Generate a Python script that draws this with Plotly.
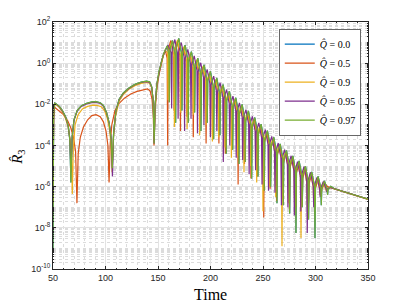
import plotly.graph_objects as go

# ---------------- data: (time, log10 R3) vertices ----------------
# Q = 0.97 (green)
green_pts = [
    (50, -9.0), (50.6, -2.6), (51.5, -1.92), (53, -1.97), (56, -2.1), (59, -2.3), (62, -2.6),
    (64.5, -3.05), (66, -3.7), (67.1, -5.8), (68.2, -3.6), (70, -2.75), (73, -2.3), (77, -2.07),
    (82, -1.95), (87, -1.88), (91, -1.87), (95, -1.92), (98, -2.05), (101, -2.4), (103.5, -2.9),
    (105.4, -3.7), (106.5, -5.1), (107.7, -3.4), (110, -2.3), (113, -1.75), (117, -1.45),
    (122, -1.22), (128, -1.03), (134, -0.92), (139, -0.87), (142, -0.9), (144, -1.15),
    (145.4, -1.8), (146.3, -3.9), (147.3, -2.0), (149, -1.0), (151, -0.4), (153, 0.05),
    (155, 0.4), (157, 0.65), (159, 0.85),
    (160.3, 0.4), (160.8, -1.9), (161.3, 0.65), (163.8, 1.1),
    (166.3, 0.4), (166.8, -2.9), (167.3, 0.75), (169.8, 1.2),
    (172.3, 0.5), (172.8, -2.3), (173.3, 0.43), (175.8, 0.88),
    (178.3, 0.18), (178.8, -2.9), (179.3, 0.11), (181.8, 0.56),
    (184.4, -0.14), (184.9, -2.4), (185.4, -0.21), (187.9, 0.24),
    (190.4, -0.46), (190.9, -3.3), (191.4, -0.53), (193.9, -0.08),
    (196.4, -0.78), (196.9, -2.9), (197.4, -0.85), (199.9, -0.4),
    (202.5, -1.1), (203.0, -3.7), (203.5, -1.17), (206.0, -0.72),
    (208.5, -1.42), (209.0, -3.5), (209.5, -1.49), (212.0, -1.04),
    (214.5, -1.74), (215.0, -4.4), (215.5, -1.81), (218.0, -1.36),
    (220.6, -2.06), (221.1, -4.2), (221.6, -2.13), (224.1, -1.68),
    (226.6, -2.38), (227.1, -4.9), (227.6, -2.45), (230.1, -2.0),
    (232.6, -2.7), (233.1, -4.8), (233.6, -2.77), (236.1, -2.32),
    (238.7, -3.02), (239.2, -5.6), (239.7, -3.09), (242.2, -2.64),
    (244.7, -3.34), (245.2, -5.5), (245.7, -3.41), (248.2, -2.96),
    (250.7, -3.66), (251.2, -6.2), (251.7, -3.73), (254.2, -3.28),
    (256.8, -3.98), (257.3, -6.0), (257.8, -4.05), (260.3, -3.6),
    (262.8, -4.3), (263.3, -6.8), (263.8, -4.37), (266.3, -3.92),
    (268.8, -4.62), (269.3, -6.9), (269.8, -4.69), (272.3, -4.24),
    (274.9, -4.94), (275.4, -7.3), (275.9, -4.95), (278.4, -4.5),
    (280.9, -5.2), (281.4, -8.25), (281.9, -5.2), (284.4, -4.75),
    (286.9, -5.45), (287.4, -7.0), (287.9, -5.45), (290.4, -5.0),
    (292.9, -5.7), (293.4, -7.6), (293.9, -5.73), (296.4, -5.28),
    (299.0, -5.95), (299.5, -8.5), (300.0, -5.95), (302.5, -5.5),
    (305.0, -6.05), (305.5, -6.9), (306.0, -6.1), (308.5, -5.72),
    (311.0, -6.1), (311.5, -6.4), (312.0, -6.15), (314.5, -5.98),
    (318, -6.1), (324, -6.2), (331, -6.31), (338, -6.42), (344, -6.52), (350, -6.61),
]

# Q = 0.5 (red)
red_pts = [
    (50, -6.8), (50.6, -2.7), (51.5, -2.14), (53, -2.2), (56, -2.3), (60, -2.5), (64, -2.8),
    (67, -3.15), (69.5, -3.6), (71.5, -4.3), (72.8, -6.8), (74.0, -4.4), (76, -3.6), (79, -3.1),
    (83, -2.75), (87, -2.55), (91, -2.5), (95, -2.6), (98, -2.85), (100.5, -3.3), (102.3, -4.0),
    (103.4, -5.8), (104.5, -3.9), (106, -3.0), (109, -2.3), (113, -1.95), (118, -1.7),
    (124, -1.5), (130, -1.37), (136, -1.28), (140, -1.25), (142.5, -1.35), (144.3, -1.75),
    (145.5, -2.5), (146.2, -4.0), (147.1, -2.4), (149, -1.2), (151, -0.55), (153, -0.05),
    (155, 0.35), (157, 0.62),
    (158.7, 0.25), (159.2, -4.0), (159.7, 0.65), (162.25, 1.1),
    (164.8, 0.4), (165.3, -2.3), (165.8, 0.6), (168.35, 1.05),
    (170.9, 0.35), (171.4, -3.3), (171.9, 0.3), (174.45, 0.75),
    (177.0, 0.05), (177.5, -2.6), (178.0, -0.02), (180.55, 0.43),
    (183.1, -0.27), (183.6, -3.6), (184.1, -0.34), (186.65, 0.11),
    (189.2, -0.59), (189.7, -2.9), (190.2, -0.66), (192.75, -0.21),
    (195.3, -0.91), (195.8, -3.9), (196.3, -0.98), (198.85, -0.53),
    (201.4, -1.23), (201.9, -3.5), (202.4, -1.3), (204.95, -0.85),
    (207.5, -1.55), (208.0, -3.9), (208.5, -1.62), (211.05, -1.17),
    (213.6, -1.87), (214.1, -4.4), (214.6, -1.94), (217.15, -1.49),
    (219.7, -2.19), (220.2, -4.2), (220.7, -2.26), (223.25, -1.81),
    (225.8, -2.51), (226.3, -5.9), (226.8, -2.58), (229.35, -2.13),
    (231.9, -2.83), (232.4, -4.9), (232.9, -2.9), (235.45, -2.45),
    (238.0, -3.15), (238.5, -5.6), (239.0, -3.22), (241.55, -2.77),
    (244.1, -3.47), (244.6, -5.5), (245.1, -3.54), (247.65, -3.09),
    (250.2, -3.79), (250.7, -7.5), (251.2, -3.86), (253.75, -3.41),
    (256.3, -4.11), (256.8, -6.1), (257.3, -4.18), (259.85, -3.73),
    (262.4, -4.43), (262.9, -6.7), (263.4, -4.5), (265.95, -4.05),
    (268.5, -4.75), (269.0, -6.6), (269.5, -4.82), (272.05, -4.37),
    (274.6, -5.07), (275.1, -7.1), (275.6, -5.1), (278.15, -4.65),
    (280.7, -5.35), (281.2, -7.0), (281.7, -5.35), (284.25, -4.9),
    (286.8, -5.6), (287.3, -6.9), (287.8, -5.6), (290.35, -5.15),
    (292.9, -5.85), (293.4, -6.8), (293.9, -5.85), (296.45, -5.4),
    (299.0, -6.05), (299.5, -6.6), (300.0, -6.07), (302.55, -5.62),
    (305.1, -6.1), (305.6, -6.3), (306.1, -6.1), (308.6, -5.85),
    (312, -6.01), (318, -6.11), (325, -6.22), (332, -6.33), (340, -6.46), (350, -6.62),
]

# Q = 0.9 (yellow)
yellow_pts = [
    (50, -6.4), (50.6, -2.6), (51.5, -2.0), (53, -2.02), (56, -2.15), (59, -2.38), (62, -2.7),
    (64.5, -3.1), (66.5, -3.8), (67.7, -4.8), (68.4, -6.35), (69.3, -4.2), (71, -3.0), (74, -2.5),
    (78, -2.22), (83, -2.1), (88, -2.04), (92, -2.05), (96, -2.12), (99, -2.3), (101.5, -2.65),
    (103.8, -3.2), (105.4, -4.0), (106.3, -5.3), (107.4, -3.7), (109.5, -2.6), (113, -1.85),
    (117, -1.52), (122, -1.28), (128, -1.1), (134, -0.98), (139, -0.94), (142, -0.97),
    (144, -1.2), (145.4, -1.85), (146.3, -3.9), (147.3, -2.05), (149, -1.05), (151, -0.45),
    (153, 0.0), (155, 0.37), (157, 0.63),
    (159.1, 0.5), (159.6, -1.8), (160.1, 0.55), (162.6, 1.0),
    (165.1, 0.3), (165.6, -3.1), (166.1, 0.68), (168.6, 1.13),
    (171.1, 0.43), (171.6, -2.4), (172.1, 0.35), (174.65, 0.8),
    (177.2, 0.1), (177.7, -3.2), (178.2, 0.03), (180.7, 0.48),
    (183.2, -0.22), (183.7, -2.5), (184.2, -0.29), (186.7, 0.16),
    (189.2, -0.54), (189.7, -3.5), (190.2, -0.61), (192.75, -0.16),
    (195.3, -0.86), (195.8, -3.0), (196.3, -0.93), (198.8, -0.48),
    (201.3, -1.18), (201.8, -3.8), (202.3, -1.25), (204.8, -0.8),
    (207.3, -1.5), (207.8, -3.6), (208.3, -1.57), (210.8, -1.12),
    (213.3, -1.82), (213.8, -4.1), (214.3, -1.89), (216.85, -1.44),
    (219.4, -2.14), (219.9, -4.6), (220.4, -2.21), (222.9, -1.76),
    (225.4, -2.46), (225.9, -4.5), (226.4, -2.53), (228.9, -2.08),
    (231.4, -2.78), (231.9, -5.3), (232.4, -2.85), (234.95, -2.4),
    (237.5, -3.1), (238.0, -5.0), (238.5, -3.17), (241.0, -2.72),
    (243.5, -3.42), (244.0, -5.8), (244.5, -3.49), (247.0, -3.04),
    (249.5, -3.74), (250.0, -7.2), (250.5, -3.81), (253.05, -3.36),
    (255.6, -4.06), (256.1, -6.0), (256.6, -4.13), (259.1, -3.68),
    (261.6, -4.38), (262.1, -6.5), (262.6, -4.45), (265.1, -4.0),
    (267.6, -4.7), (268.1, -8.9), (268.6, -4.77), (271.15, -4.32),
    (273.7, -5.02), (274.2, -6.8), (274.7, -5.05), (277.2, -4.6),
    (279.7, -5.3), (280.2, -7.3), (280.7, -5.3), (283.2, -4.85),
    (285.7, -5.55), (286.2, -8.5), (286.7, -5.55), (289.2, -5.1),
    (291.7, -5.8), (292.2, -7.0), (292.7, -5.8), (295.25, -5.35),
    (297.8, -6.0), (298.3, -6.7), (298.8, -6.05), (301.3, -5.6),
    (303.8, -6.1), (304.3, -6.4), (304.8, -6.1), (307.3, -5.8),
    (309.8, -6.1), (310.3, -6.2), (310.8, -6.1),
    (313, -6.03), (320, -6.14), (328, -6.26), (336, -6.39), (343, -6.5), (350, -6.6),
]

# Q = 0.95 (purple)
purple_pts = [
    (50, -6.2), (50.6, -2.6), (51.5, -1.95), (53, -1.99), (56, -2.12), (59, -2.33), (62, -2.63),
    (64.5, -3.07), (66, -3.7), (67.2, -5.3), (68.3, -3.6), (70, -2.78), (73, -2.33), (77, -2.1),
    (82, -1.98), (87, -1.92), (91, -1.91), (95, -1.95), (98, -2.08), (101, -2.42), (103.5, -2.92),
    (105.4, -3.7), (106.6, -5.5), (107.7, -3.45), (110, -2.32), (113, -1.77), (117, -1.47),
    (122, -1.24), (128, -1.05), (134, -0.94), (139, -0.9), (142, -0.93), (144, -1.17),
    (145.4, -1.82), (146.3, -3.9), (147.3, -2.0), (149, -1.0), (151, -0.42), (153, 0.03),
    (155, 0.38), (157, 0.64), (159.5, 0.88),
    (162.5, 0.5), (163.0, -2.2), (163.5, 0.7), (166.08, 1.15),
    (168.65, 0.45), (169.15, -2.7), (169.65, 0.55), (172.2, 1.0),
    (174.8, 0.3), (175.3, -3.3), (175.8, 0.22), (178.4, 0.67),
    (180.95, -0.03), (181.45, -2.7), (181.95, -0.1), (184.5, 0.35),
    (187.1, -0.35), (187.6, -3.4), (188.1, -0.43), (190.7, 0.02),
    (193.25, -0.68), (193.75, -3.0), (194.25, -0.75), (196.8, -0.3),
    (199.4, -1.0), (199.9, -3.6), (200.4, -1.08), (203.0, -0.63),
    (205.55, -1.33), (206.05, -3.3), (206.55, -1.4), (209.1, -0.95),
    (211.7, -1.65), (212.2, -4.8), (212.7, -1.73), (215.3, -1.28),
    (217.85, -1.98), (218.35, -4.0), (218.85, -2.05), (221.4, -1.6),
    (224.0, -2.3), (224.5, -4.6), (225.0, -2.38), (227.6, -1.93),
    (230.15, -2.63), (230.65, -4.7), (231.15, -2.71), (233.7, -2.26),
    (236.3, -2.96), (236.8, -5.4), (237.3, -3.03), (239.9, -2.58),
    (242.45, -3.28), (242.95, -5.2), (243.45, -3.35), (246.0, -2.9),
    (248.6, -3.6), (249.1, -5.9), (249.6, -3.68), (252.2, -3.23),
    (254.75, -3.93), (255.25, -6.2), (255.75, -4.01), (258.3, -3.56),
    (260.9, -4.26), (261.4, -6.3), (261.9, -4.33), (264.5, -3.88),
    (267.05, -4.58), (267.55, -6.9), (268.05, -4.65), (270.6, -4.2),
    (273.2, -4.9), (273.7, -7.0), (274.2, -4.95), (276.8, -4.5),
    (279.35, -5.2), (279.85, -7.4), (280.35, -5.23), (282.9, -4.78),
    (285.5, -5.48), (286.0, -7.2), (286.5, -5.47), (289.1, -5.02),
    (291.65, -5.72), (292.15, -8.25), (292.65, -5.75), (295.2, -5.3),
    (297.8, -5.98), (298.3, -7.0), (298.8, -6.0), (301.4, -5.55),
    (303.95, -6.1), (304.45, -6.5), (304.95, -6.1), (307.5, -5.75),
    (310.1, -6.1), (310.6, -6.25), (311.1, -6.1),
    (314, -6.04), (320, -6.13), (327, -6.24), (335, -6.37), (342, -6.48), (350, -6.6),
]

# Q = 0.0 (blue): never visible in the reference, it lies under the Q = 0.97 curve
blue_pts = list(green_pts)

labels = ["0.0", "0.5", "0.9", "0.95", "0.97"]
colors = ["#0072BD", "#D95319", "#EDB120", "#7E2F8E", "#77AC30"]
series = [blue_pts, red_pts, yellow_pts, purple_pts, green_pts]

x_ticks = [50, 100, 150, 200, 250, 300, 350]
y_exps = [-10, -8, -6, -4, -2, 0, 2]

# ---------------- figure ----------------
fig = go.Figure()
for pts, lab, col in zip(series, labels, colors):
    t = [p[0] for p in pts]
    r = [10 ** p[1] for p in pts]
    fig.add_trace(go.Scatter(
        x=t, y=r, mode="lines",
        line=dict(color=col, width=1.2),
        name="<i>Q\u0302</i> = " + lab,
    ))

minor_y = [k * 10.0 ** e for e in range(-10, 2) for k in range(1, 10)
           if not (k == 1 and e % 2 == 0)]
minor_x = [v for v in range(50, 351, 10) if v % 50 != 0]

axcol = "#262626"
serif = "Liberation Serif, DejaVu Serif, serif"
# the page body has an 8 px margin, so the plot area is placed 8 px up/left in figure space
fig.update_layout(
    width=407, height=305,
    margin=dict(l=45, r=47, t=14, b=44),
    paper_bgcolor="white", plot_bgcolor="white",
    font=dict(family="Liberation Sans, Arial", size=9, color=axcol),
    showlegend=True,
    legend=dict(
        x=0.978, y=0.972, xanchor="right", yanchor="top",
        bgcolor="white", bordercolor=axcol, borderwidth=0.7,
        font=dict(family=serif, size=10, color="black"),
        itemwidth=30, tracegroupgap=0,
    ),
    annotations=[
        dict(text="Time", xref="paper", yref="paper", x=0.5, y=-0.105,
             xanchor="center", yanchor="middle", showarrow=False,
             font=dict(family=serif, size=16, color="black")),
        dict(text="<i>R\u0302</i><sub>3</sub>", xref="paper", yref="paper", x=-0.112, y=0.453,
             xanchor="center", yanchor="middle", showarrow=False, textangle=-90,
             font=dict(family=serif, size=15, color="black")),
    ],
)
fig.update_xaxes(
    range=[50, 350], tickmode="array", tickvals=x_ticks, ticktext=[str(v) for v in x_ticks],
    showline=True, linecolor=axcol, linewidth=0.8, mirror="allticks",
    ticks="inside", ticklen=3, tickcolor=axcol, tickwidth=0.7,
    showgrid=True, gridcolor="#e3e3e3", gridwidth=0.8, zeroline=False,
    minor=dict(tickmode="array", tickvals=minor_x, showgrid=True, gridcolor="#dcdcdc",
               griddash="dot", gridwidth=0.6, ticks="inside", ticklen=1.5, tickcolor=axcol),
    automargin=False,
)
fig.update_yaxes(
    type="log", range=[-10, 2], tickmode="array",
    tickvals=[10.0 ** e for e in y_exps], ticktext=["10<sup>%d</sup>" % e for e in y_exps],
    showline=True, linecolor=axcol, linewidth=0.8, mirror="allticks",
    ticks="inside", ticklen=3, tickcolor=axcol, tickwidth=0.7,
    showgrid=True, gridcolor="#e3e3e3", gridwidth=0.8, zeroline=False,
    minor=dict(tickmode="array", tickvals=minor_y, showgrid=True, gridcolor="#dcdcdc",
               griddash="dot", gridwidth=0.6, ticks="inside", ticklen=1.5, tickcolor=axcol),
    automargin=False,
)

fig.write_html("out.html")
